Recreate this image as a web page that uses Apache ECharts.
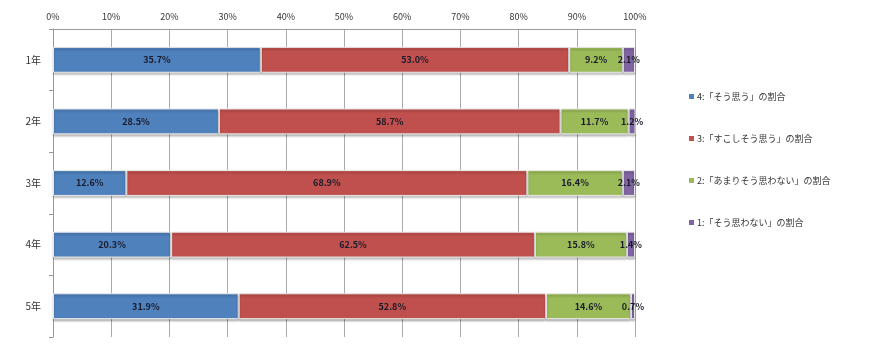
<!DOCTYPE html>
<html><head><meta charset="utf-8">
<script src="https://cdn.jsdelivr.net/npm/echarts@6/dist/echarts.min.js"></script>
<style>html,body{margin:0;padding:0;background:#fff}#c{width:870px;height:354px}</style>
</head><body><div id="c"></div>
<script>
const categories = ['1年','2年','3年','4年','5年'];
const seriesNames = ['4:「そう思う」の割合','3:「すこしそう思う」の割合','2:「あまりそう思わない」の割合','1:「そう思わない」の割合'];
const s4 = [35.7, 28.5, 12.6, 20.3, 31.9];
const s3 = [53.0, 58.7, 68.9, 62.5, 52.8];
const s2 = [9.2, 11.7, 16.4, 15.8, 14.6];
const s1 = [2.1, 1.2, 2.1, 1.4, 0.7];
const colors = ['#4F81BD','#C0504D','#9BBB59','#8064A2'];
const font = '"Noto Sans CJK JP", "Noto Sans", sans-serif';
const all = [s4, s3, s2, s1];
const chart = echarts.init(document.getElementById('c'));
chart.setOption({
  animation: false,
  color: colors,
  grid: {left: 53, top: 29, width: 582, height: 308, containLabel: false},
  legend: {
    orient: 'vertical', left: 684, top: 87, itemGap: 33,
    itemWidth: 5, itemHeight: 5, icon: 'rect',
    itemStyle: {borderWidth: 0, shadowBlur: 0, shadowOffsetY: 0, shadowColor: 'transparent'},
    textStyle: {fontSize: 9, color: '#333', fontFamily: font, padding: [0, 0, 0, -2]},
    data: seriesNames
  },
  xAxis: {
    type: 'value', position: 'top', min: 0, max: 100, interval: 10,
    axisLabel: {formatter: '{value}%', fontSize: 9, color: '#333', fontFamily: font, margin: 8},
    axisLine: {show: true, lineStyle: {color: '#999'}},
    axisTick: {show: false},
    splitLine: {show: true, lineStyle: {color: '#aaa'}}
  },
  yAxis: {
    type: 'category', data: categories, inverse: true,
    axisLabel: {fontSize: 10, color: '#333', fontFamily: font, margin: 12},
    axisLine: {show: true, lineStyle: {color: '#999'}},
    axisTick: {show: true, length: 4, inside: false, lineStyle: {color: '#999'}}
  },
  series: all.map((d, i) => ({
    name: seriesNames[i], type: 'bar', stack: 'total', data: d,
    barWidth: '42%',
    itemStyle: {borderColor: '#e8e8e8', borderWidth: 1, shadowColor: 'rgba(0,0,0,0.25)', shadowOffsetY: 2, shadowBlur: 2},
    label: {show: true, position: 'inside', formatter: p => p.value.toFixed(1) + '%',
      fontSize: 9, fontWeight: 'bold', color: '#1a1a2a', fontFamily: font}
  }))
});
</script></body></html>
